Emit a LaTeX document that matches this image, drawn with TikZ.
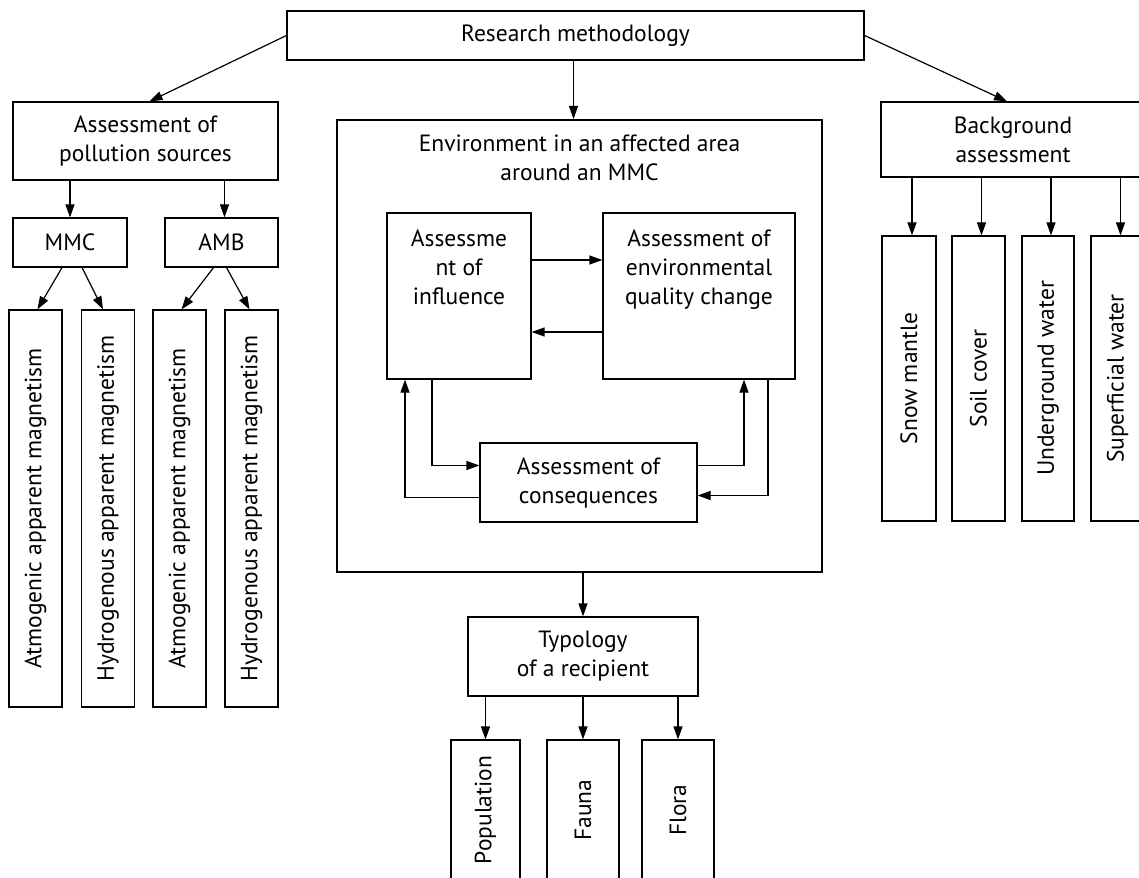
\documentclass[tikz,border=0pt]{standalone}
\usepackage{fontspec}
\setmainfont{PT Sans}
\usetikzlibrary{arrows.meta}

\begin{document}
\begin{tikzpicture}[x=1pt, y=-1pt, line width=1.2pt, >={Triangle[length=13pt,width=9pt]},
                    main node/.style={draw,inner sep=0pt,align=center,font=\fontsize{23.5}{29}\selectfont},
                    tall node/.style={main node,rotate=90}]
  \path[use as bounding box, clip] (0,0) rectangle (1139,877);

  \node[main node,minimum width=577pt,minimum height=49pt] (1) at (575.5,35.5) {Research methodology};

  % left branch
  \node[main node,minimum width=265pt,minimum height=78pt] (2) at (145.5,141) {Assessment of\\pollution sources};
  \node[main node,minimum width=114pt,minimum height=49pt] (3) at (70,242.5) {MMC};
  \node[main node,minimum width=113pt,minimum height=49pt] (4) at (221.5,242.5) {AMB};
  \node[tall node,minimum width=397pt,minimum height=53pt] (5) at (35.5,508.5) {Atmogenic apparent magnetism};
  \node[tall node,minimum width=397pt,minimum height=53pt] (6) at (108,508.5) {Hydrogenous apparent magnetism};
  \node[tall node,minimum width=397pt,minimum height=53pt] (7) at (179.5,508.5) {Atmogenic apparent magnetism};
  \node[tall node,minimum width=397pt,minimum height=53pt] (8) at (251.5,508.5) {Hydrogenous apparent magnetism};

  % middle branch
  \node[main node,line width=2pt,minimum width=485pt,minimum height=452pt,
        label={[main node,draw=none,anchor=north,yshift=-15pt]north:Environment in an affected area\\around an MMC}] (9) at (579.5,346) {};
  \node[main node,minimum width=144pt,minimum height=166pt,
        label={[main node,draw=none,anchor=north,yshift=-17pt]north:Assessme\\nt of\\influence}] (10) at (459,296) {};
  \node[main node,minimum width=192pt,minimum height=166pt,
        label={[main node,draw=none,anchor=north,yshift=-17pt]north:Assessment of\\environmental\\quality change}] (11) at (699,296) {};
  \node[main node,minimum width=217pt,minimum height=79pt] (12) at (588.5,482.5) {Assessment of\\consequences};
  \node[main node,minimum width=230pt,minimum height=79pt] (13) at (583,656.5) {Typology\\of a recipient};
  \node[tall node,minimum width=140pt,minimum height=69pt] (14) at (485.5,810) {Population};
  \node[tall node,minimum width=140pt,minimum height=72pt] (15) at (583,810) {Fauna};
  \node[tall node,minimum width=140pt,minimum height=72pt] (16) at (678,810) {Flora};

  % right branch
  \node[main node,minimum width=264pt,minimum height=75pt] (17) at (1013,139.5) {Background\\assessment};
  \node[tall node,minimum width=285pt,minimum height=54pt] (18) at (909,378.5) {Snow mantle};
  \node[tall node,minimum width=285pt,minimum height=53pt] (19) at (978.5,378.5) {Soil cover};
  \node[tall node,minimum width=285pt,minimum height=52pt] (20) at (1048,378.5) {Underground water};
  \node[tall node,minimum width=285pt,minimum height=53pt] (21) at (1117.5,378.5) {Superficial water};

\path[->]
     (1.west) edge ([xshift=4pt]2.north)
     ([xshift=-2pt]1.south) edge ([xshift=-2pt]1.south |- 9.north)
     (1.east) edge ([xshift=-6pt]17.north)
     (2.south -| 3.north) edge (3.north)
     ([xshift=3pt]2.south -| 4.north) edge ([xshift=3pt]4.north)
     ([xshift=-8pt]3.south) edge ([xshift=2pt]5.east)
     ([xshift=12pt]3.south) edge ([xshift=-5pt]6.east)
     ([xshift=-8pt]4.south) edge ([xshift=2pt]7.east)
     ([xshift=5pt]4.south) edge ([xshift=-2pt]8.east)
     (9.south -| 13.north) edge (13.north)
     (13.south -| 14.east) edge (14.east)
     (13.south -| 15.east) edge (15.east)
     (13.south -| 16.east) edge (16.east)
     ([xshift=3pt]17.south -| 18.east) edge ([xshift=3pt]18.east)
     ([xshift=3pt]17.south -| 19.east) edge ([xshift=3pt]19.east)
     ([xshift=3pt]17.south -| 20.east) edge ([xshift=3pt]20.east)
     ([xshift=3pt]17.south -| 21.east) edge ([xshift=3pt]21.east)
     ([yshift=36pt]10.east) edge ([yshift=36pt]11.west)
     ([yshift=-36pt]11.west) edge ([yshift=-36pt]10.east)
   ;

  % loop round the consequences
  \draw[->] ([xshift=-27pt]10.south) |- ([yshift=17pt]12.west);
  \draw[->] ([yshift=-15pt]12.west) -| ([xshift=-54pt]10.south);
  \draw[->] ([yshift=17pt]12.east) -| ([xshift=45pt]11.south);
  \draw[->] ([xshift=69pt]11.south) |- ([yshift=-13pt]12.east);

\end{tikzpicture}
\end{document}
